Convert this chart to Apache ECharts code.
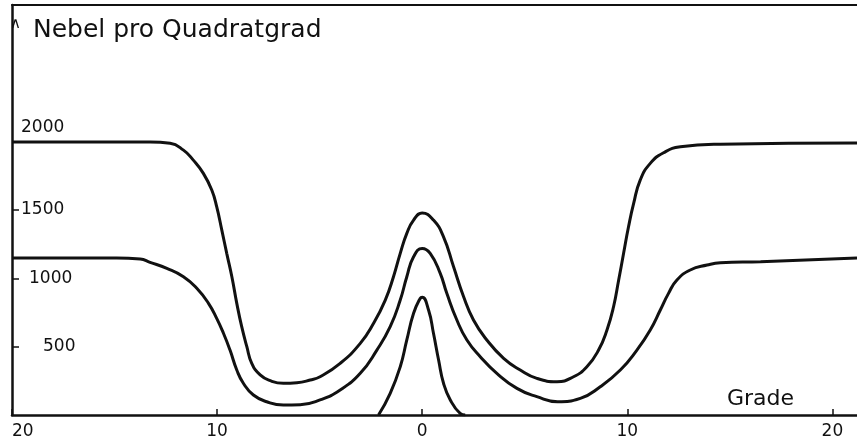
<!DOCTYPE html>
<html>
<head>
<meta charset="utf-8">
<script src="https://cdn.jsdelivr.net/npm/echarts@6/dist/echarts.min.js"></script>
<style>
  html, body { margin: 0; padding: 0; background: #fff; }
  #chart { width: 857px; height: 443px; }
</style>
</head>
<body>
<div id="chart"></div>
<script>
// Nebel pro Quadratgrad gegen galaktische Breite (Grade)
const xTicks = [-20, -10, 0, 10, 20];
const yTicks = [500, 1000, 1500, 2000];
const yTickMarks = [500, 1000, 1500];

// obere Kurve
const upperDeg = [-20, -16, -13.27, -12.29, -11.64, -11.16, -10.67, -10.26, -10.02, -9.77,
  -9.53, -9.28, -9.04, -8.8, -8.55, -8.31, -7.9, -7.41, -6.77, -6.11,
  -5.46, -4.98, -4.0, -3.02, -2.37, -1.8, -1.4, -1.07, -0.75, -0.42,
  0, 0.55, 1.04, 1.53, 2.02, 2.5, 3.15, 3.97, 4.78, 5.59,
  6.57, 7.38, 8.03, 8.6, 9.01, 9.33, 9.58, 9.82, 10.06, 10.31,
  10.63, 11.12, 11.77, 12.59, 14.54, 21.2];
const upperVal = [1997, 1997, 1997, 1988, 1938, 1865, 1768, 1646, 1524, 1353,
  1183, 1012, 817, 646, 500, 378, 293, 251, 232, 236,
  256, 280, 378, 524, 671, 841, 1012, 1183, 1329, 1426,
  1478, 1426, 1304, 1085, 865, 695, 549, 415, 329, 268,
  244, 280, 353, 475, 622, 792, 988, 1183, 1377, 1548,
  1719, 1841, 1919, 1963, 1982, 1990];

// mittlere Kurve
const middleDeg = [-20, -14.9, -13.75, -13.27, -12.45, -11.64, -10.99, -10.42, -10.02, -9.69,
  -9.37, -9.04, -8.72, -8.23, -7.58, -6.77, -5.95, -4.98, -4.0, -3.02,
  -2.21, -1.56, -1.07, -0.75, -0.42, 0, 0.39, 0.88, 1.2, 1.69,
  2.18, 2.83, 3.64, 4.62, 5.59, 6.6, 7.71, 8.68, 9.66, 10.47,
  11.12, 11.61, 12.01, 12.42, 13.07, 13.89, 14.54, 16.5, 21.2];
const middleVal = [1148, 1148, 1141, 1117, 1073, 1012, 927, 817, 707, 598,
  475, 329, 232, 146, 97, 73, 75, 110, 183, 305,
  475, 646, 841, 1012, 1158, 1219, 1183, 1036, 890, 695,
  549, 427, 305, 195, 134, 97, 122, 207, 329, 475,
  622, 768, 890, 988, 1061, 1097, 1114, 1122, 1148];

// schmale Kurve
const innerDeg = [-2.13, -1.56, -1.07, -0.75, -0.42, -0.1, 0, 0.31, 0.55, 0.8, 1.04, 1.37, 1.85, 2.1];
const innerVal = [0, 159, 353, 549, 744, 853, 861, 768, 598, 402, 232, 110, 12, 0];

const zip = (xs, ys) => xs.map((x, i) => [x, ys[i]]);

const chart = echarts.init(document.getElementById('chart'));
const ink = '#111';
const font = 'DejaVu Sans';

const curve = (name, data) => ({
    name,
    type: 'line',
    data,
    smooth: 0.5,
    symbol: 'none',
    lineStyle: { color: ink, width: 3 },
    silent: true,
});

chart.setOption({
    backgroundColor: '#fff',
    animation: false,
    title: [
        {
            text: 'Nebel pro Quadratgrad',
            left: 28, top: 13,
            textStyle: { fontFamily: font, fontWeight: 'normal', fontSize: 25, color: ink },
        },
        {
            text: '∧',
            left: 5, top: 12,
            textStyle: { fontFamily: font, fontWeight: 'normal', fontSize: 15, color: ink },
        },
        {
            text: 'Grade',
            left: 722, top: 383,
            textStyle: { fontFamily: font, fontWeight: 'normal', fontSize: 22, color: ink },
        },
    ],
    grid: { left: 12, right: 0, top: 5, bottom: 28, containLabel: false },
    xAxis: [
        {
            type: 'value',
            min: -20, max: 21.2, interval: 10,
            axisLine: { lineStyle: { color: ink, width: 2.5 } },
            axisTick: { inside: true, length: 6, lineStyle: { color: ink, width: 1.5 } },
            splitLine: { show: false },
            axisLabel: {
                color: ink, fontFamily: font, fontSize: 17, margin: 8,
                showMaxLabel: false, alignMinLabel: 'left',
                formatter: v => (xTicks.includes(v) ? String(Math.abs(v)) : ''),
            },
        },
        {
            type: 'value', position: 'top',
            min: -20, max: 21.2,
            axisLine: { lineStyle: { color: ink, width: 2 } },
            axisTick: { show: false }, axisLabel: { show: false }, splitLine: { show: false },
        },
    ],
    yAxis: {
        type: 'value',
        min: 0, max: 3000, interval: 500,
        axisLine: { show: true, onZero: false, lineStyle: { color: ink, width: 2.5 } },
        axisTick: { inside: true, length: 7, customValues: yTickMarks,
            lineStyle: { color: ink, width: 1.5 } },
        splitLine: { show: false },
        axisLabel: {
            inside: true, margin: 9, customValues: yTicks,
            color: ink, fontFamily: font, fontSize: 17,
            formatter: v => {
                if (v === 2000) return '{top|' + v + '}';
                if (v === 1000) return '{mid|' + v + '}';
                if (v === 500) return '{low|' + v + '}';
                return '{std|' + v + '}';
            },
            rich: {
                top: { fontFamily: font, fontSize: 17, color: ink, padding: [0, 0, 28, 0] },
                std: { fontFamily: font, fontSize: 17, color: ink, padding: [0, 0, 0, 0] },
                mid: { fontFamily: font, fontSize: 17, color: ink, padding: [0, 0, 0, 8] },
                low: { fontFamily: font, fontSize: 17, color: ink, padding: [0, 0, 0, 22] },
            },
        },
    },
    series: [
        curve('obere', zip(upperDeg, upperVal)),
        curve('mittlere', zip(middleDeg, middleVal)),
        curve('schmale', zip(innerDeg, innerVal)),
    ],
});
</script>
</body>
</html>
